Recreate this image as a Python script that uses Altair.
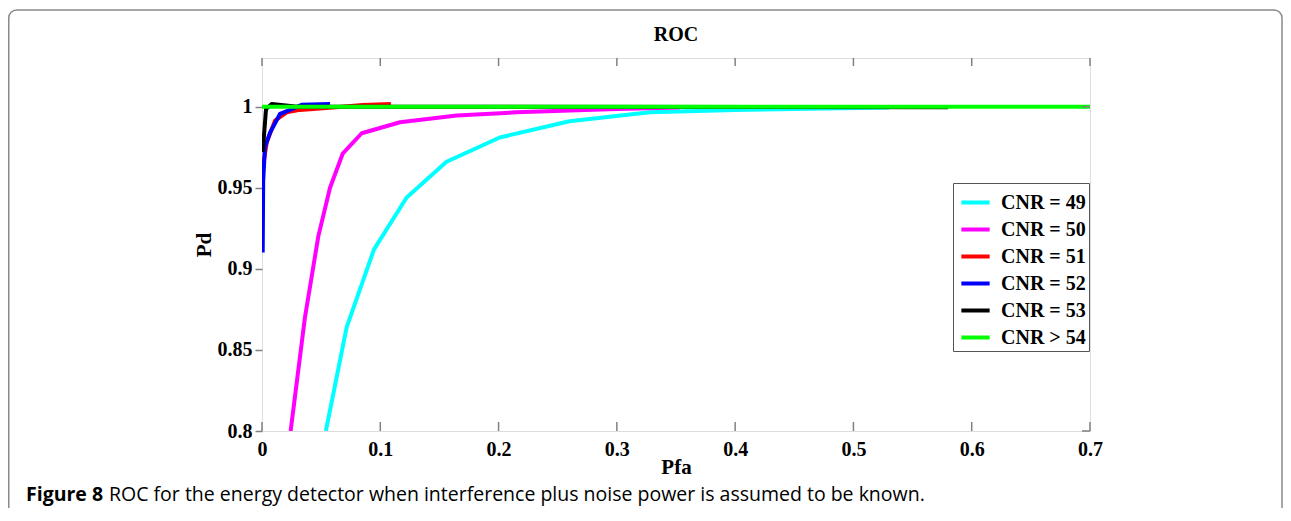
import altair as alt
import pandas as pd

# ---------------- data ----------------
series_labels = ["CNR = 49", "CNR = 50", "CNR = 51", "CNR = 52", "CNR = 53", "CNR > 54"]

pfa_cnr49 = [0.054, 0.0716, 0.0947, 0.1223, 0.156, 0.201, 0.260, 0.328, 0.40, 0.53]
pd_cnr49 = [0.800, 0.864, 0.912, 0.944, 0.966, 0.981, 0.991, 0.9965, 0.998, 0.9995]

pfa_cnr50 = [0.0242, 0.0363, 0.0476, 0.0575, 0.0682, 0.0843, 0.1167, 0.1646, 0.215, 0.30, 0.353]
pd_cnr50 = [0.800, 0.870, 0.920, 0.950, 0.971, 0.9836, 0.9904, 0.9945, 0.9965, 0.9985, 0.9995]

pfa_cnr51 = [0.0006, 0.004, 0.011, 0.0209, 0.032, 0.060, 0.085, 0.109]
pd_cnr51 = [0.962, 0.978, 0.9914, 0.9965, 0.998, 0.9995, 1.001, 1.0017]

pfa_cnr52 = [0.0006, 0.001, 0.0025, 0.0068, 0.0152, 0.0237, 0.0335, 0.0575]
pd_cnr52 = [0.910, 0.954, 0.975, 0.984, 0.9955, 0.998, 1.0012, 1.0017]

pfa_cnr53 = [0.0006, 0.0034, 0.0082, 0.030, 0.580]
pd_cnr53 = [0.972, 0.9986, 1.0017, 1.000, 0.9996]

pfa_cnr54 = [0.0, 0.7]
pd_cnr54 = [1.0, 1.0]

x_tick_values = [0.0, 0.1, 0.2, 0.3, 0.4, 0.5, 0.6, 0.7]
y_tick_values = [0.8, 0.85, 0.9, 0.95, 1.0]

chart_title = ["ROC"]
x_title = "Pfa"
y_title = "Pd"
caption_bold = ["Figure 8"]
caption_rest = ["ROC for the energy detector when interference plus noise power is assumed to be known."]

# ---------------- styles ----------------
line_colors = ["#00FFFF", "#FF00FF", "#FF0000", "#0000FF", "#000000", "#00FF00"]
line_widths = [4, 4, 3.5, 3.5, 3, 4.5]
serif = "Liberation Serif"
axis_grey = "#808080"

rows = []
all_x = [pfa_cnr49, pfa_cnr50, pfa_cnr51, pfa_cnr52, pfa_cnr53, pfa_cnr54]
all_y = [pd_cnr49, pd_cnr50, pd_cnr51, pd_cnr52, pd_cnr53, pd_cnr54]
for lab, xs, ys in zip(series_labels, all_x, all_y):
    for i, (a, b) in enumerate(zip(xs, ys)):
        rows.append({"series": lab, "Pfa": a, "Pd": b, "i": i})
df = pd.DataFrame(rows)

W, H = 828, 373
PAD_L, PAD_T, PAD_R, PAD_B = 254, 50, 193, 77
xscale = alt.Scale(domain=[0, 0.7], nice=False, zero=False)
yscale = alt.Scale(domain=[0.8, 1.03], nice=False, zero=False)

lines = alt.Chart(df).mark_line(clip=True, strokeCap="butt", strokeJoin="round").encode(
    x=alt.X(
        "Pfa:Q", scale=xscale,
        axis=alt.Axis(
            values=x_tick_values, format=".1~f", title=x_title, ticks=False, tickSize=0,
            domain=False, grid=False, labelPadding=8, labelFlush=False, labelFont=serif,
            labelFontSize=20, labelFontWeight="bold", labelColor="black", titleFont=serif,
            titleFontSize=21, titleFontWeight="bold", titleColor="black", titleY=36,
            titleBaseline="middle",
        ),
    ),
    y=alt.Y(
        "Pd:Q", scale=yscale,
        axis=alt.Axis(
            values=y_tick_values, format=".2~f", title=y_title, ticks=True, tickSize=7,
            tickColor=axis_grey, tickWidth=1.5, domain=False, grid=False, labelPadding=3,
            labelFlush=False, labelFont=serif, labelFontSize=20, labelFontWeight="bold",
            labelColor="black", titleFont=serif, titleFontSize=21, titleFontWeight="bold",
            titleColor="black", titleX=-58, titleY=H / 2, titleBaseline="middle",
        ),
    ),
    color=alt.Color(
        "series:N", sort=series_labels,
        scale=alt.Scale(domain=series_labels, range=line_colors),
        legend=alt.Legend(
            title=None, orient="none", legendX=691, legendY=125, direction="vertical",
            fillColor="white", strokeColor="#555555", padding=3, symbolOffset=3,
            symbolType="stroke", symbolSize=800, symbolStrokeWidth=3.5, labelFont=serif,
            labelFontSize=20, labelFontWeight="bold", labelColor="black", labelOffset=9,
            rowPadding=-1,
        ),
    ),
    strokeWidth=alt.StrokeWidth(
        "series:N", scale=alt.Scale(domain=series_labels, range=line_widths), legend=None
    ),
    order="i:Q",
)

xt = pd.DataFrame({"Pfa": x_tick_values})
yt = pd.DataFrame({"Pd": y_tick_values})
top_ticks = alt.Chart(xt).mark_rule(color=axis_grey, strokeWidth=1.5).encode(
    x=alt.X("Pfa:Q", scale=xscale), y=alt.value(0), y2=alt.value(8)
)
bottom_ticks = alt.Chart(xt).mark_rule(color=axis_grey, strokeWidth=1.5).encode(
    x=alt.X("Pfa:Q", scale=xscale), y=alt.value(H), y2=alt.value(H - 9)
)
right_ticks = alt.Chart(yt).mark_rule(color=axis_grey, strokeWidth=1.5).encode(
    y=alt.Y("Pd:Q", scale=yscale), x=alt.value(W), x2=alt.value(W - 8)
)

border = alt.Chart(pd.DataFrame({"b": [1]})).mark_rect(
    fillOpacity=0, stroke="#8a8a8a", strokeWidth=1.5, cornerRadius=8
).encode(
    x=alt.value(-PAD_L + 0.75), x2=alt.value(W + PAD_R - 1),
    y=alt.value(-48), y2=alt.value(H + PAD_B + 30),
)

title_mark = alt.Chart(pd.DataFrame({"t": chart_title})).mark_text(
    align="center", baseline="middle", font=serif, fontSize=20, fontWeight="bold", color="black"
).encode(x=alt.value(W / 2), y=alt.value(-23), text="t:N")

cap1 = alt.Chart(pd.DataFrame({"t": caption_bold})).mark_text(
    align="left", baseline="alphabetic", font="Open Sans", fontSize=19.5, fontWeight="bold", color="black"
).encode(x=alt.value(-236), y=alt.value(443), text="t:N")
cap2 = alt.Chart(pd.DataFrame({"t": caption_rest})).mark_text(
    align="left", baseline="alphabetic", font="Open Sans", fontSize=19.5, fontWeight="normal", color="black"
).encode(x=alt.value(-153), y=alt.value(443), text="t:N")

chart = alt.layer(border, lines, top_ticks, bottom_ticks, right_ticks, title_mark, cap1, cap2).properties(
    width=W, height=H,
    autosize=alt.AutoSizeParams(type="none"),
    padding={"left": PAD_L, "top": PAD_T, "right": PAD_R, "bottom": PAD_B},
).configure_view(stroke=axis_grey, strokeWidth=1.5).configure(background="white")

chart.save("out.html", embed_options={"renderer": "svg", "actions": False})
